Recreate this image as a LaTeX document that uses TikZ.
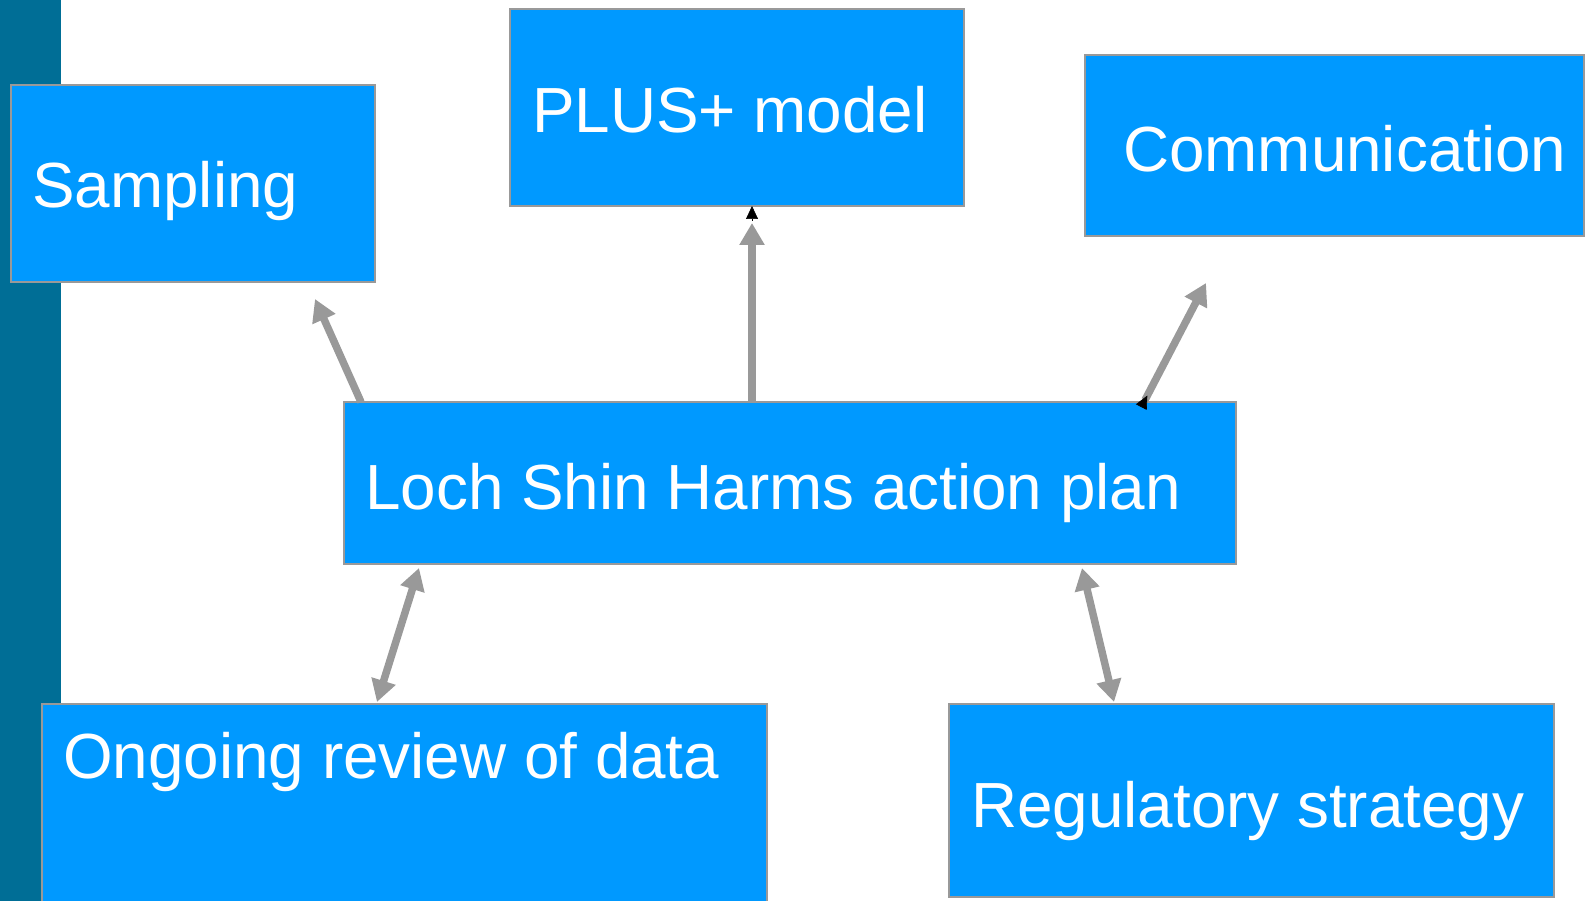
\documentclass[tikz,border=0pt]{standalone}
\usepackage{fontspec}
\setmainfont{Liberation Sans}
\usetikzlibrary{arrows.meta,calc}
\definecolor{boxblue}{HTML}{0099FF}
\definecolor{boxline}{HTML}{999999}
\definecolor{stripblue}{HTML}{006E96}
\definecolor{linkgray}{HTML}{999999}
\tikzset{
  box/.style={draw=boxline, fill=boxblue, line width=2.5pt, inner sep=0pt, outer sep=0pt, anchor=north west},
  label text/.style={text=white, anchor=base west, inner sep=0pt, font=\fontsize{63.8}{76}\selectfont},
  link/.style={draw=linkgray, line width=7.5pt, -{Triangle[length=22pt,width=24pt]}},
  twoway/.style={draw=linkgray, line width=7.5pt, {Triangle[length=22pt,width=24pt]}-{Triangle[length=22pt,width=24pt]}},
  smalltip/.style={draw=black, line width=0.6pt, -{Triangle[length=13pt,width=12pt]}},
}
\begin{document}
\begin{tikzpicture}[x=1pt,y=-1pt]
\useasboundingbox (0,0) rectangle (1589,901);
% side band
\fill[stripblue] (0,0) rectangle (61,901);

% boxes
\node[box, minimum width=364pt, minimum height=197pt] (sampling) at (11,85) {};
\node[box, minimum width=454pt, minimum height=197pt] (plus) at (510,9) {};
\node[box, minimum width=499pt, minimum height=181pt] (comm) at (1085,55) {};
\node[box, minimum width=892pt, minimum height=162pt] (loch) at (344,402) {};
\node[box, minimum width=725pt, minimum height=205pt] (ongoing) at (42,704) {};
\node[box, minimum width=605pt, minimum height=193pt] (reg) at (949,704) {};

% captions
\node[label text] (samplingtxt) at (32,208) {Sampling};
\node[label text] (plustxt) at (532,133) {PLUS+ model};
\node[label text] (commtxt) at (1123,172) {Communication};
\node[label text] (lochtxt) at (365,509) {Loch Shin Harms action plan};
\node[label text] (ongoingtxt) at (63,778) {Ongoing review of data};
\node[label text] (regtxt) at (971,827) {Regulatory strategy};

% ends of the connectors
\coordinate (sampStart) at (361,402);
\coordinate (sampEnd) at (315,299);
\coordinate (plusEnd) at (752,223);
\coordinate (commStart) at (1145,400);
\coordinate (commEnd) at (1206,283);
\coordinate (ongA) at (377,702);
\coordinate (ongB) at (419,568);
\coordinate (regA) at (1082,568);
\coordinate (regB) at (1114,702);

% connectors
\draw[link] (sampStart) -- (sampEnd);
\draw[link] (loch.north -| plusEnd) -- (plusEnd);
\draw[smalltip] ([yshift=2pt]plusEnd) -- (plusEnd |- plus.south);
\draw[link] (commStart) -- (commEnd);
\draw[smalltip] ($(commStart)!-8pt!(commEnd)$) -- ($(commStart)!5pt!(commEnd)$);
\draw[twoway] (ongA) -- (ongB);
\draw[twoway] (regA) -- (regB);
\end{tikzpicture}
\end{document}
